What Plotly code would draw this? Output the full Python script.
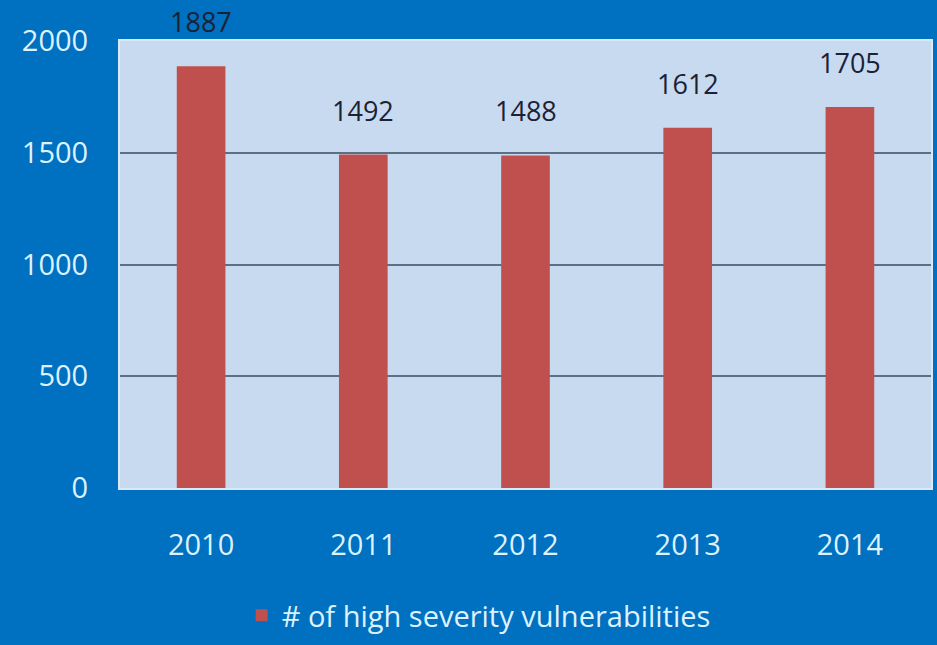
import plotly.graph_objects as go

years = ["2010", "2011", "2012", "2013", "2014"]
values = [1887, 1492, 1488, 1612, 1705]
series_name = "# of high severity vulnerabilities"
y_ticks = [0, 500, 1000, 1500, 2000]

BG = "#0070C0"
PLOT_BG = "#C8DAF0"
BAR = "#C0504D"
TICK = "#DDF2FF"
LABEL = "#1B2236"
GRID = "#5C6F86"
FONT = "Open Sans"

fig = go.Figure()
fig.add_trace(go.Bar(
    x=years, y=values, name=series_name,
    marker=dict(color=BAR, line=dict(width=0)),
    width=0.3,
    showlegend=True,
))

# category positions by index (numeric-looking names would be read as indices)
for i, v in enumerate(values):
    fig.add_annotation(x=i, y=v, text=str(v), showarrow=False,
                       yanchor="bottom", yshift=24,
                       font=dict(family=FONT, size=27, color=LABEL))

fig.update_layout(
    width=937, height=645,
    margin=dict(l=120, r=4, t=41, b=155),
    paper_bgcolor=BG, plot_bgcolor=PLOT_BG,
    font=dict(family=FONT, size=29, color=TICK),
    showlegend=True,
    legend=dict(orientation="h", x=0.15, xanchor="left", y=-0.285, yanchor="middle",
                font=dict(family=FONT, size=29, color=TICK),
                bgcolor="rgba(0,0,0,0)", itemwidth=30),
)
fig.update_xaxes(
    type="category", range=[-0.5, len(years) - 0.5],
    showgrid=False, showline=True, linecolor="#DCE9F8", linewidth=2, mirror=True,
    tickfont=dict(family=FONT, size=29, color=TICK), ticks="", ticklabelstandoff=30,
)
fig.update_yaxes(
    range=[0, 2000], tickvals=y_ticks, showgrid=True, gridcolor=GRID, gridwidth=2,
    zeroline=False, showline=True, linecolor="#DCE9F8", linewidth=2, mirror=True,
    tickfont=dict(family=FONT, size=29, color=TICK), ticks="", ticklabelstandoff=24,
)

fig.write_html("out.html")
